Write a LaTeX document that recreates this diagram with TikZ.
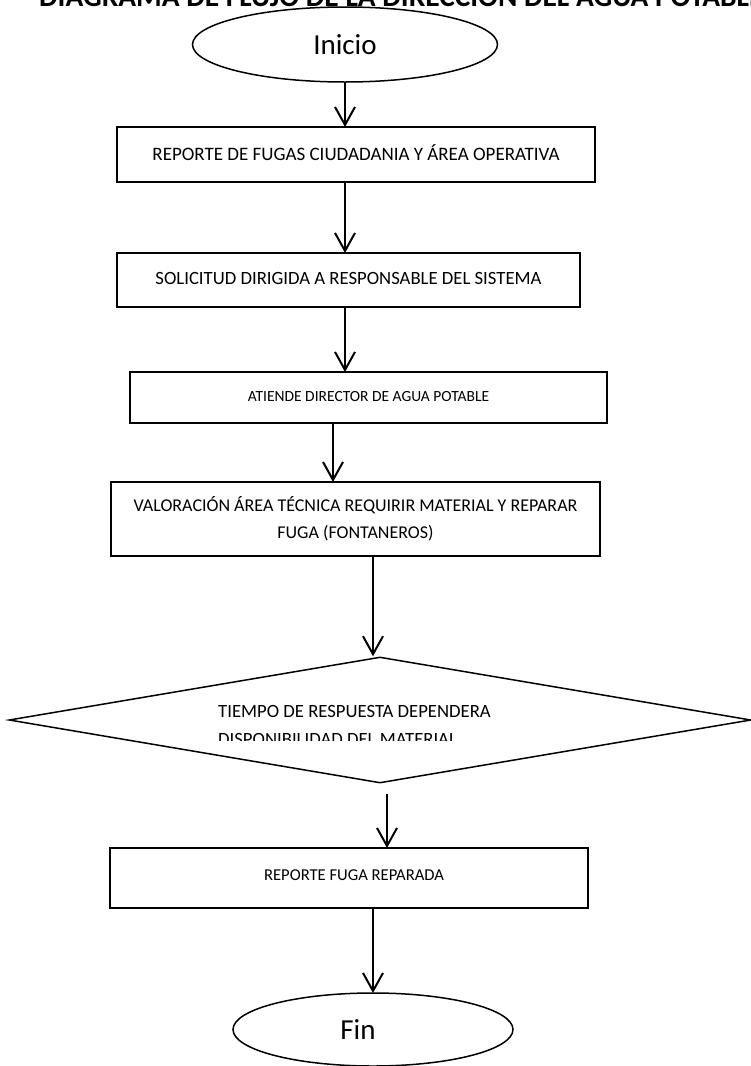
\documentclass[tikz,border=0pt]{standalone}
\usepackage{fontspec}
\setmainfont{Carlito}
\usetikzlibrary{shapes.geometric, arrows.meta}

\newcommand{\fs}[1]{\fontsize{#1}{27}\selectfont}

\begin{document}
\begin{tikzpicture}[x=1pt,y=-1pt,
  box/.style={draw=black, line width=1.6pt, inner sep=0pt, outer sep=0pt, align=center, font=\fs{19}},
  term/.style={ellipse, draw=black, line width=1.5pt, inner sep=0pt, outer sep=0pt, font=\fontsize{29}{34}\selectfont},
  txt/.style={inner sep=0pt, anchor=base west, font=\fs{18.7}},
  arr/.style={line width=2pt, -{Straight Barb[length=18pt,width=20pt,line width=2pt]}}]
\useasboundingbox (0,0) rectangle (750,1066);
\node[inner sep=0pt, anchor=base west, font=\bfseries\fontsize{29.4}{34}\selectfont] (title) at (39,6) {DIAGRAMA DE FLUJO DE LA DIRECCIÓN DEL AGUA POTABLE};
\node[term, minimum width=305pt, minimum height=75pt] (inicio) at (345,44.5) {Inicio};
\node[box, minimum width=478pt, minimum height=55pt] (reporte) at (356,154.5) {\raisebox{3pt}{REPORTE DE FUGAS CIUDADANIA Y ÁREA OPERATIVA}};
\node[box, font=\fs{18.7}, minimum width=463pt, minimum height=54pt] (solicitud) at (348.5,280) {\raisebox{3pt}{SOLICITUD DIRIGIDA A RESPONSABLE DEL SISTEMA}};
\node[box, font=\fs{15.5}, minimum width=477pt, minimum height=51pt] (atiende) at (368.5,397.5) {\raisebox{3pt}{ATIENDE DIRECTOR DE AGUA POTABLE}};
\node[box, font=\fs{18}, minimum width=489pt, minimum height=74pt] (valoracion) at (355.5,519) {VALORACIÓN ÁREA TÉCNICA REQUIRIR MATERIAL Y REPARAR\\FUGA (FONTANEROS)};
\node[diamond, draw=black, line width=1.5pt, inner sep=0pt, minimum width=742pt, minimum height=126pt] (tiempo) at (380,720) {};
\begin{scope}
\clip (0,600) rectangle (750,740);
\node[txt] (tiempoa) at (218,717) {TIEMPO DE RESPUESTA DEPENDERA};
\node[txt] (tiempob) at (218,745) {DISPONIBILIDAD DEL MATERIAL};
\end{scope}
\node[box, font=\fs{16.6}, minimum width=478pt, minimum height=60pt] (reparada) at (349,878) {\raisebox{5pt}{\hspace*{10pt}REPORTE FUGA REPARADA}};
\node[term, minimum width=280pt, minimum height=73pt] (fin) at (373,1029.5) {Fin\hspace*{30pt}};
% flechas
\draw[arr] (inicio.south) -- (reporte.north -| inicio.south);
\draw[arr] (reporte.south -| inicio.south) -- (solicitud.north -| inicio.south);
\draw[arr] (solicitud.south -| inicio.south) -- (atiende.north -| inicio.south);
\draw[arr] (atiende.south -| 333,0) -- (valoracion.north -| 333,0);
\draw[arr] (valoracion.south -| 373,0) -- (tiempo.north -| 373,0);
\draw[arr, shorten <=10pt] (tiempo.south -| 387,0) -- (reparada.north -| 387,0);
\draw[arr] (reparada.south -| fin.north) -- (fin.north);
\end{tikzpicture}
\end{document}
